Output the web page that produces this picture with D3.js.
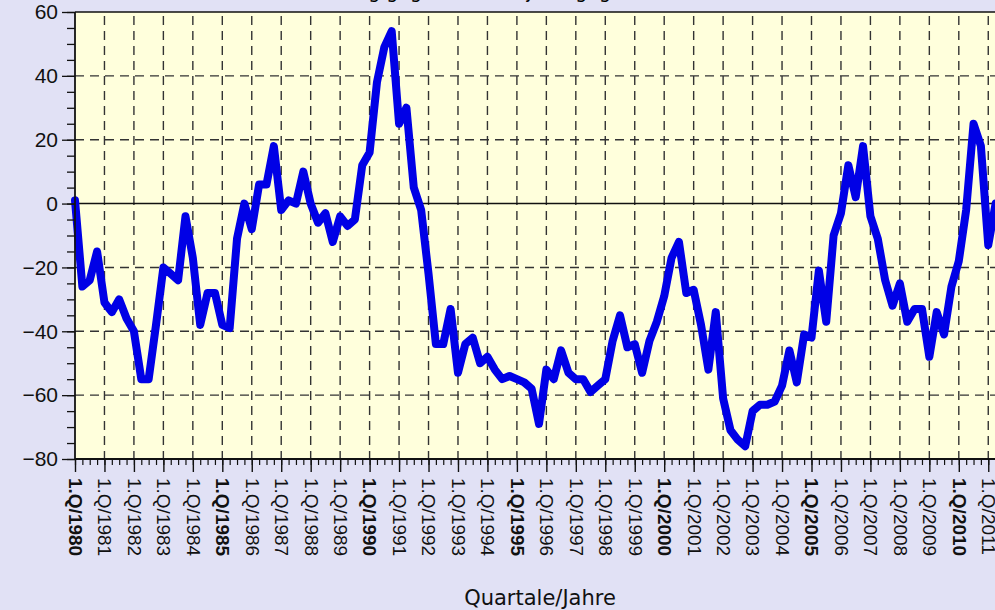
<!DOCTYPE html>
<html>
<head>
<meta charset="utf-8">
<script src="https://cdn.jsdelivr.net/npm/d3@7"></script>
<style>
  html, body { margin: 0; padding: 0; background: #e1e1f5; }
  svg { display: block; }
</style>
</head>
<body>
<div id="chart"></div>
<script>
// Quartalswerte 1.Q/1980 .. 2.Q/2011
var values = [
   1, -26, -24, -15, -31, -34, -30, -36,
 -40, -55, -55, -38, -20, -22, -24,  -4,
 -17, -38, -28, -28, -38, -39, -11,   0,
  -8,   6,   6,  18,  -2,   1,   0,  10,
   0,  -6,  -3, -12,  -4,  -7,  -5,  12,
  16,  38,  49,  54,  25,  30,   5,  -2,
 -22, -44, -44, -33, -53, -44, -42, -50,
 -48, -52, -55, -54, -55, -56, -58, -69,
 -52, -55, -46, -53, -55, -55, -59, -57,
 -55, -43, -35, -45, -44, -53, -43, -37,
 -29, -17, -12, -28, -27, -38, -52, -34,
 -61, -71, -74, -76, -65, -63, -63, -62,
 -57, -46, -56, -41, -42, -21, -37, -10,
  -3,  12,   2,  18,  -4, -11, -24, -32,
 -25, -37, -33, -33, -48, -34, -41, -26,
 -18,  -2,  25,  18, -13,   0
];
var years = d3.range(1980, 2012);
var boldYears = [1980, 1985, 1990, 1995, 2000, 2005, 2010];
var yMajor = [-80, -60, -40, -20, 0, 20, 40, 60];

var W = 995, H = 610;
var pLeft = 75, pTop = 12, pBottom = 459, pRight = 1010;

var svg = d3.select("#chart").append("svg")
    .attr("width", W).attr("height", H);

var x = d3.scaleLinear().domain([0, 125]).range([pLeft, pLeft + 125 * 7.365]);
var y = d3.scaleLinear().domain([-80, 60]).range([pBottom, pTop]);

// title (cut off at the top in the original)
svg.append("text")
    .attr("x", 460).attr("y", -2)
    .attr("text-anchor", "middle")
    .attr("font-family", "DejaVu Sans").attr("font-size", 19)
    .text("Veränderung gegenüber Vorjahr, geglättet");

// plot background
svg.append("rect")
    .attr("x", pLeft).attr("y", pTop)
    .attr("width", pRight - pLeft).attr("height", pBottom - pTop)
    .attr("fill", "#ffffdc");

var grid = svg.append("g").attr("stroke", "#333").attr("stroke-width", 1.4)
    .attr("stroke-dasharray", "9,6");

// vertical grid at each year
grid.selectAll("line.v")
    .data(years.slice(1))
    .enter().append("line")
    .attr("class", "v")
    .attr("x1", function(d) { return x((d - 1980) * 4); })
    .attr("x2", function(d) { return x((d - 1980) * 4); })
    .attr("y1", pTop + 4).attr("y2", pBottom);

// horizontal grid
grid.selectAll("line.h")
    .data(yMajor.filter(function(d) { return d != 0 && d != 60 && d != -80; }))
    .enter().append("line")
    .attr("class", "h")
    .attr("x1", pLeft).attr("x2", pRight)
    .attr("y1", function(d) { return y(d); })
    .attr("y2", function(d) { return y(d); });

// zero line + top border
svg.append("line").attr("x1", pLeft).attr("x2", pRight)
    .attr("y1", y(0)).attr("y2", y(0))
    .attr("stroke", "#111").attr("stroke-width", 1.6);
svg.append("line").attr("x1", pLeft).attr("x2", pRight)
    .attr("y1", y(60)).attr("y2", y(60))
    .attr("stroke", "#111").attr("stroke-width", 1.6);

// data line
var line = d3.line()
    .x(function(d, i) { return x(i); })
    .y(function(d) { return y(d); });

svg.append("path")
    .datum(values)
    .attr("d", line)
    .attr("fill", "none")
    .attr("stroke", "#0000e6")
    .attr("stroke-width", 8)
    .attr("stroke-linejoin", "round")
    .attr("stroke-linecap", "round");

// y axis
var yAxis = svg.append("g").attr("transform", "translate(" + pLeft + ",0)");
yAxis.call(d3.axisLeft(y).tickValues(d3.range(-80, 61, 5)).tickSize(8).tickFormat(""));
yAxis.call(function(g) {
    g.select(".domain").remove();
    g.selectAll("line").attr("stroke", "#111").attr("stroke-width", 1.3);
});
var yAxisMajor = svg.append("g").attr("transform", "translate(" + pLeft + ",0)");
yAxisMajor.call(d3.axisLeft(y).tickValues(yMajor).tickSize(13).tickPadding(4));
yAxisMajor.call(function(g) {
    g.select(".domain").remove();
    g.selectAll("line").attr("stroke", "#111").attr("stroke-width", 1.3);
    g.selectAll("text")
        .attr("font-family", "Liberation Sans, Arial, sans-serif")
        .attr("font-size", 21)
        .attr("fill", "#111");
});
svg.append("line").attr("x1", pLeft).attr("x2", pLeft)
    .attr("y1", pTop).attr("y2", pBottom)
    .attr("stroke", "#111").attr("stroke-width", 1.8);

// x axis
var xMinor = svg.append("g").attr("transform", "translate(0," + pBottom + ")");
xMinor.call(d3.axisBottom(x).tickValues(d3.range(0, 126)).tickSize(6).tickFormat(""));
xMinor.call(function(g) {
    g.select(".domain").remove();
    g.selectAll("line").attr("stroke", "#111").attr("stroke-width", 1.2);
});
var xMajor = svg.append("g").attr("transform", "translate(0," + pBottom + ")");
xMajor.call(d3.axisBottom(x)
    .tickValues(years.map(function(d) { return (d - 1980) * 4; }))
    .tickSize(13)
    .tickFormat(function(d) { return "1.Q/" + (1980 + d / 4); }));
xMajor.call(function(g) {
    g.select(".domain").remove();
    g.selectAll("line").attr("stroke", "#111").attr("stroke-width", 1.4);
    g.selectAll("text")
        .attr("font-family", "Liberation Sans, Arial, sans-serif")
        .attr("font-size", 19)
        .attr("fill", "#111")
        .attr("text-anchor", "start")
        .attr("font-weight", function(d) {
            return boldYears.indexOf(1980 + d / 4) >= 0 ? "bold" : "normal";
        })
        .attr("transform", "translate(0,19) rotate(90)")
        .attr("x", 0).attr("y", 0).attr("dy", "0.35em");
});
svg.append("line").attr("x1", pLeft).attr("x2", pRight)
    .attr("y1", pBottom).attr("y2", pBottom)
    .attr("stroke", "#111").attr("stroke-width", 1.8);

// axis title
svg.append("text")
    .attr("x", 540).attr("y", 605)
    .attr("text-anchor", "middle")
    .attr("font-family", "DejaVu Sans").attr("font-size", 21)
    .attr("fill", "#111")
    .text("Quartale/Jahre");
</script>
</body>
</html>
